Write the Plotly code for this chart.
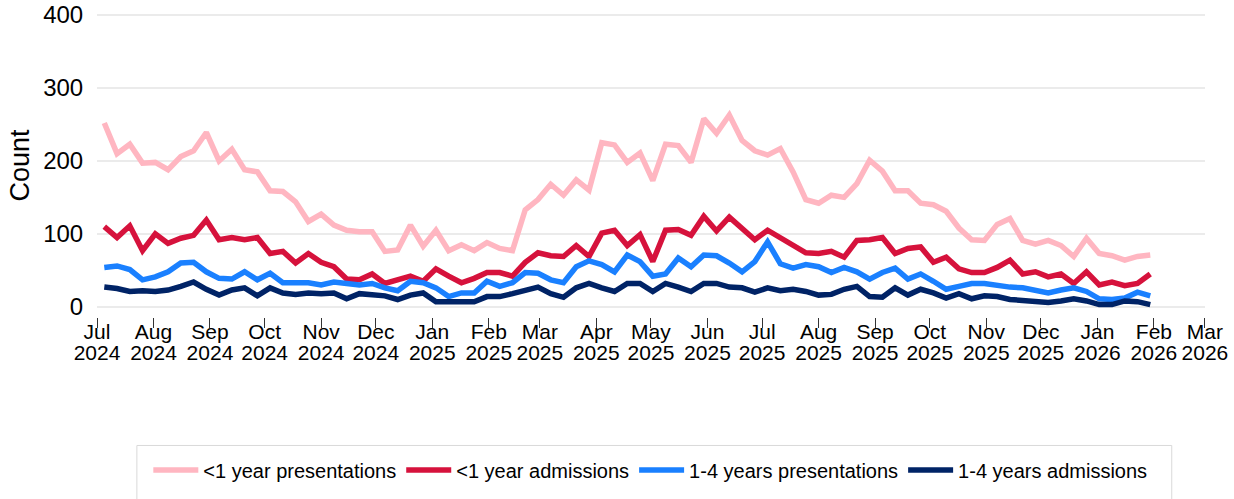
import pandas as pd
import plotly.graph_objects as go

week_start = "2024-07-05"
n_weeks = 83

under1_presentations = [252, 210, 223, 197, 198, 188, 206, 214, 239, 200, 216, 188, 185, 159, 158, 144, 117, 127, 112, 105,
                        103, 103, 76, 78, 112, 83, 105, 77, 85, 77, 88, 80, 77, 133, 147, 168, 153, 174, 160, 225,
                        222, 198, 211, 173, 223, 221, 198, 258, 238, 263, 228, 214, 208, 217, 185, 147, 142, 153, 150, 169,
                        201, 186, 159, 159, 142, 140, 131, 108, 92, 91, 113, 121, 91, 86, 91, 84, 69, 94, 73, 70,
                        64, 69, 71]
under1_admissions = [110, 95, 111, 77, 100, 87, 94, 98, 119, 92, 95, 92, 95, 73, 76, 60, 73, 61, 55, 38,
                     37, 45, 32, 37, 42, 35, 52, 42, 33, 39, 47, 47, 42, 61, 74, 70, 69, 84, 69, 101,
                     105, 84, 99, 62, 105, 106, 98, 124, 104, 123, 108, 92, 105, 94, 85, 74, 73, 76, 68, 91,
                     92, 95, 73, 80, 82, 61, 68, 52, 47, 47, 54, 64, 45, 48, 41, 45, 32, 48, 30, 34,
                     29, 32, 45]
y1_4_presentations = [54, 56, 51, 37, 41, 48, 60, 61, 48, 39, 38, 48, 37, 46, 33, 33, 33, 30, 34, 32,
                      30, 32, 26, 22, 35, 33, 26, 14, 19, 19, 35, 28, 33, 47, 46, 37, 33, 55, 63, 58,
                      48, 71, 62, 42, 45, 67, 55, 71, 70, 60, 48, 62, 89, 59, 53, 58, 55, 47, 54, 48,
                      38, 47, 53, 38, 45, 35, 24, 28, 32, 32, 29, 27, 26, 22, 19, 23, 26, 21, 11, 10,
                      12, 20, 15]
y1_4_admissions = [27, 25, 21, 22, 21, 23, 28, 34, 24, 16, 23, 26, 15, 26, 19, 17, 19, 18, 19, 11,
                   18, 16, 15, 10, 16, 19, 7, 7, 7, 7, 14, 14, 18, 23, 27, 18, 13, 26, 32, 26,
                   21, 32, 32, 21, 32, 27, 21, 32, 32, 27, 26, 20, 26, 22, 24, 21, 16, 17, 24, 28,
                   14, 13, 26, 16, 24, 19, 12, 18, 11, 15, 14, 10, 9, 7, 6, 8, 11, 8, 3, 3,
                   8, 7, 3]

series_names = ["<1 year presentations", "<1 year admissions", "1-4 years presentations", "1-4 years admissions"]
series_values = [under1_presentations, under1_admissions, y1_4_presentations, y1_4_admissions]
series_colors = ["#FFB6C1", "#D6123C", "#1A80FF", "#002366"]

x_range = ["2024-07-01", "2026-03-01 01:00"]
y_ticks = [0, 100, 200, 300, 400]

dates = pd.date_range(week_start, periods=n_weeks, freq="7D")

FONT = "Liberation Sans, Arial, sans-serif"

fig = go.Figure()
for name, vals, col in zip(series_names, series_values, series_colors):
    fig.add_trace(go.Scatter(x=dates, y=vals, mode="lines", name=name,
                             line=dict(color=col, width=5.5)))

# invisible carriers so the month / year label axes get drawn
for ax in ["x2", "x3"]:
    fig.add_trace(go.Scatter(x=dates, y=under1_presentations, xaxis=ax, yaxis="y",
                             mode="lines", line=dict(color="rgba(0,0,0,0)", width=0),
                             showlegend=False, hoverinfo="skip"))

fig.add_shape(type="rect", xref="paper", yref="paper",
              x0=0.036, x1=0.970, y0=-0.424, y1=-0.72,
              line=dict(color="#d9d9d9", width=1), fillcolor="rgba(0,0,0,0)")

common_x = dict(type="date", range=x_range, dtick="M1", tick0="2024-07-01",
                showgrid=False, showline=False, zeroline=False, automargin=False)

fig.update_layout(
    width=1234, height=499,
    margin=dict(l=97, r=29, t=14, b=182),
    paper_bgcolor="white", plot_bgcolor="white",
    font=dict(family=FONT, size=19, color="#000000"),
    showlegend=True,
    legend=dict(orientation="h", x=0.527, xanchor="center", xref="container",
                y=0.058, yanchor="middle", yref="container", itemwidth=45,
                font=dict(size=20, family=FONT), bgcolor="rgba(0,0,0,0)"),
    xaxis=dict(**common_x, ticks="outside", ticklen=10, tickcolor="#333333", tickwidth=1,
               showticklabels=False),
    xaxis2=dict(**common_x, overlaying="x", anchor="y", side="bottom", ticks="",
                tickformat="%b", tickfont=dict(size=21, family=FONT)),
    xaxis3=dict(**common_x, overlaying="x", anchor="y", side="bottom", ticks="",
                tickformat="%Y", ticklabelstandoff=21, tickfont=dict(size=21, family=FONT)),
    yaxis=dict(range=[-14, 401.5], tickvals=y_ticks,
               showgrid=True, gridcolor="#ebebeb", gridwidth=2,
               zeroline=False, showline=False, automargin=False,
               ticks="outside", ticklen=8, tickcolor="rgba(0,0,0,0)",
               title=dict(text="Count", font=dict(size=27, family=FONT), standoff=5),
               tickfont=dict(size=24, family=FONT)),
)

fig.write_html("out.html", config={"displayModeBar": False},
               post_script="document.body.style.margin='0px';")
